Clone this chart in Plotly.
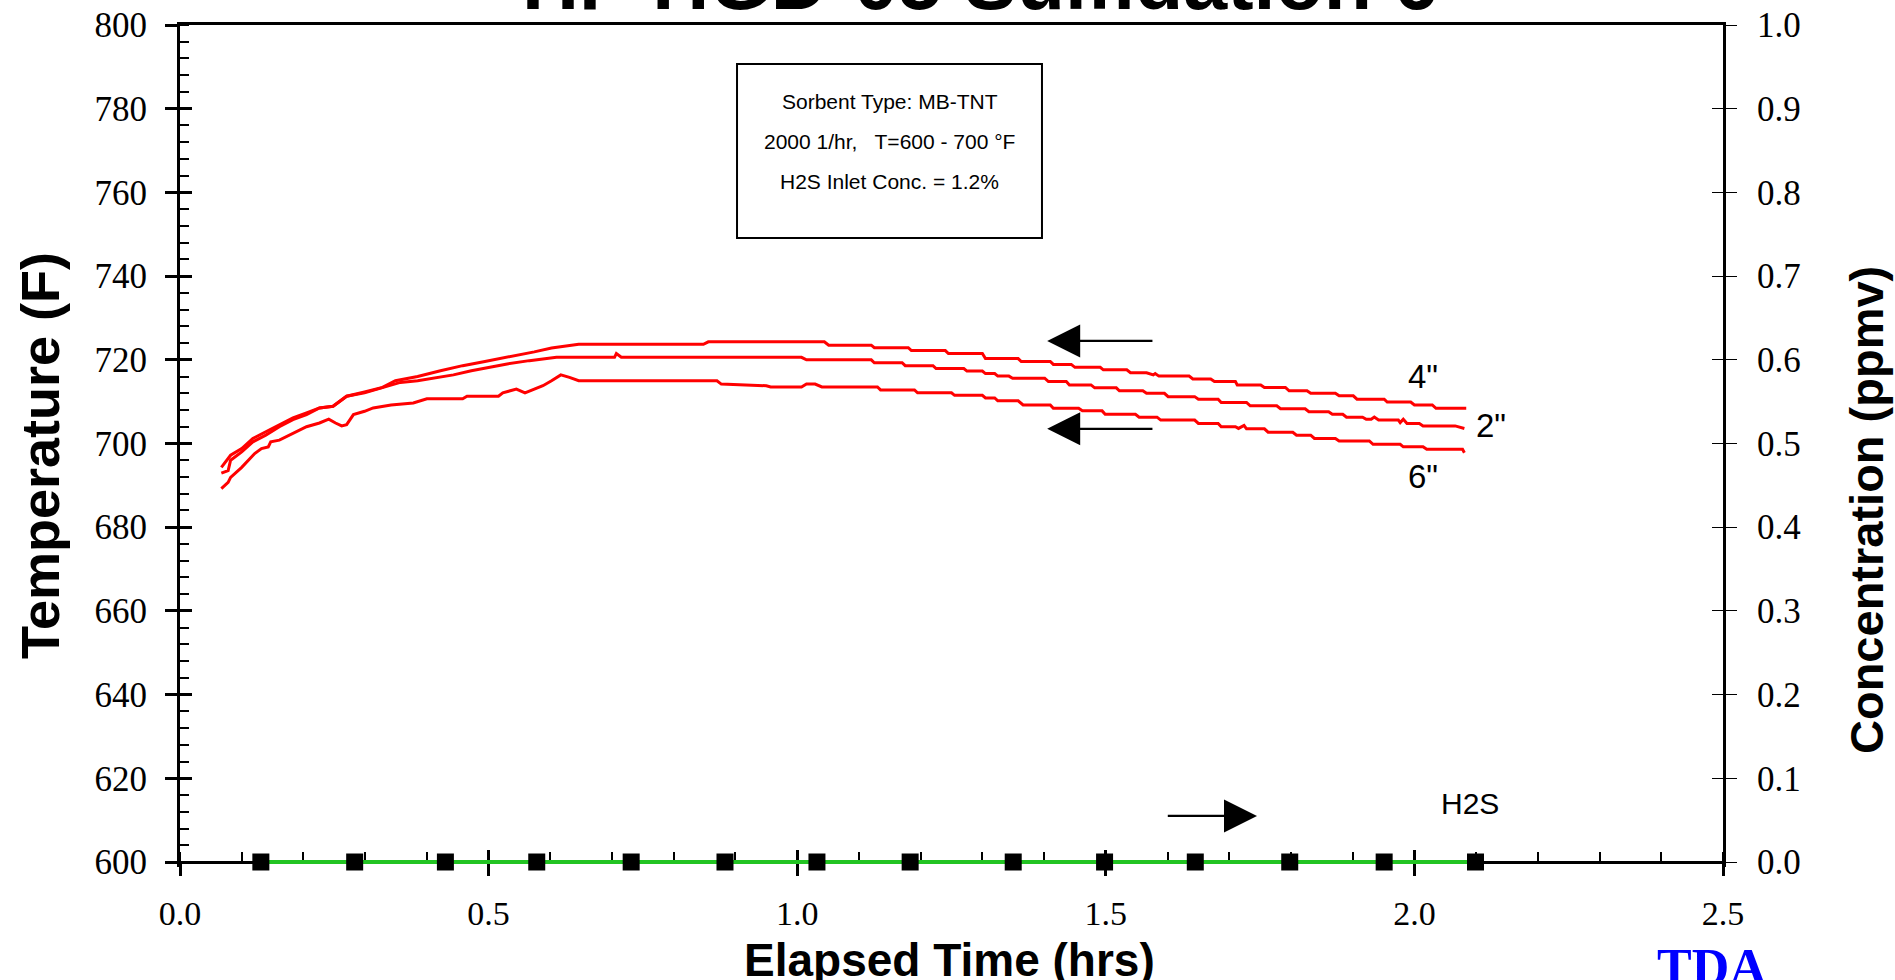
import plotly.graph_objects as go

# ---------------- data ----------------
temp_4in = [
    (0.067, 694.3), (0.082, 697.2), (0.100, 698.8), (0.118, 701.2), (0.139, 702.8),
    (0.161, 704.5), (0.183, 706.1), (0.205, 707.3), (0.226, 708.5), (0.248, 708.9),
    (0.270, 711.3), (0.299, 712.3), (0.328, 713.4), (0.349, 715.0), (0.385, 716.0),
    (0.422, 717.4), (0.458, 718.6), (0.494, 719.6), (0.530, 720.6), (0.574, 721.9),
    (0.602, 722.8), (0.646, 723.7), (0.848, 723.7), (0.856, 724.3), (1.044, 724.3),
    (1.051, 723.5), (1.086, 723.5), (1.120, 723.5), (1.125, 722.9), (1.180, 722.9),
    (1.185, 722.2), (1.240, 722.2), (1.245, 721.5), (1.300, 721.5), (1.305, 720.3),
    (1.358, 720.3), (1.363, 719.6), (1.410, 719.6), (1.415, 718.9), (1.444, 718.9),
    (1.450, 718.2), (1.491, 718.2), (1.496, 717.6), (1.534, 717.6), (1.540, 716.9),
    (1.566, 716.9), (1.577, 716.4), (1.580, 716.7), (1.586, 716.1), (1.635, 716.1),
    (1.641, 715.4), (1.670, 715.4), (1.676, 714.8), (1.710, 714.8), (1.713, 714.0),
    (1.751, 714.0), (1.757, 713.4), (1.791, 713.4), (1.797, 712.6), (1.826, 712.6),
    (1.832, 712.0), (1.872, 712.0), (1.878, 711.4), (1.901, 711.4), (1.907, 710.6),
    (1.951, 710.6), (1.956, 709.9), (1.994, 709.9), (2.000, 709.2), (2.029, 709.2),
    (2.035, 708.4), (2.084, 708.4),
]

temp_2in = [
    (0.067, 692.9), (0.078, 693.5), (0.082, 696.0), (0.100, 698.0), (0.118, 700.4),
    (0.139, 702.0), (0.161, 704.0), (0.183, 705.7), (0.205, 706.9), (0.226, 708.5),
    (0.248, 708.9), (0.270, 711.3), (0.299, 712.1), (0.328, 713.4), (0.357, 714.6),
    (0.385, 715.0), (0.443, 716.4), (0.472, 717.4), (0.501, 718.2), (0.530, 719.0),
    (0.566, 719.8), (0.610, 720.6), (0.704, 720.6), (0.707, 721.5), (0.715, 720.6),
    (1.007, 720.6), (1.015, 720.0), (1.120, 720.0), (1.125, 719.3), (1.170, 719.3),
    (1.175, 718.6), (1.220, 718.6), (1.225, 717.9), (1.270, 717.9), (1.275, 717.3),
    (1.300, 717.3), (1.305, 716.7), (1.320, 716.7), (1.325, 716.1), (1.343, 716.1),
    (1.349, 715.6), (1.401, 715.6), (1.407, 714.8), (1.436, 714.8), (1.441, 714.0),
    (1.476, 714.0), (1.482, 713.3), (1.517, 713.3), (1.522, 712.6), (1.560, 712.6),
    (1.566, 712.0), (1.595, 712.0), (1.601, 711.2), (1.644, 711.2), (1.650, 710.6),
    (1.682, 710.6), (1.687, 709.8), (1.728, 709.8), (1.734, 709.0), (1.777, 709.0),
    (1.783, 708.3), (1.823, 708.3), (1.829, 707.6), (1.861, 707.6), (1.867, 707.0),
    (1.884, 707.0), (1.890, 706.3), (1.916, 706.3), (1.922, 705.8), (1.930, 705.8),
    (1.935, 706.3), (1.942, 705.6), (1.974, 705.6), (1.977, 705.0), (1.982, 705.8),
    (1.988, 704.8), (2.008, 704.8), (2.014, 704.2), (2.066, 704.2), (2.081, 703.6),
]

temp_6in = [
    (0.067, 689.2), (0.078, 690.7), (0.082, 691.9), (0.100, 694.3), (0.121, 697.6),
    (0.132, 698.8), (0.143, 699.2), (0.147, 700.4), (0.161, 700.8), (0.183, 702.4),
    (0.205, 704.0), (0.226, 704.9), (0.241, 705.8), (0.252, 704.9), (0.262, 704.2),
    (0.270, 704.5), (0.281, 706.9), (0.299, 707.7), (0.313, 708.5), (0.342, 709.2),
    (0.378, 709.7), (0.400, 710.7), (0.458, 710.7), (0.465, 711.3), (0.516, 711.3),
    (0.523, 712.1), (0.545, 713.0), (0.559, 712.1), (0.574, 713.0), (0.588, 713.8),
    (0.602, 715.0), (0.617, 716.4), (0.631, 715.8), (0.646, 715.0), (0.870, 715.0),
    (0.877, 714.2), (0.950, 713.8), (0.957, 713.5), (1.007, 713.5), (1.015, 714.2),
    (1.029, 714.2), (1.040, 713.5), (1.130, 713.5), (1.135, 712.8), (1.190, 712.8),
    (1.195, 712.1), (1.250, 712.1), (1.255, 711.5), (1.300, 711.5), (1.305, 710.9),
    (1.320, 710.9), (1.325, 710.2), (1.358, 710.2), (1.366, 709.2), (1.410, 709.2),
    (1.415, 708.4), (1.456, 708.4), (1.462, 707.8), (1.494, 707.8), (1.499, 707.0),
    (1.548, 707.0), (1.554, 706.3), (1.583, 706.3), (1.589, 705.6), (1.644, 705.6),
    (1.650, 704.8), (1.682, 704.8), (1.687, 704.0), (1.710, 704.0), (1.715, 703.6),
    (1.724, 704.3), (1.728, 703.5), (1.757, 703.5), (1.763, 702.7), (1.803, 702.7),
    (1.809, 702.0), (1.832, 702.0), (1.838, 701.2), (1.872, 701.2), (1.878, 700.6),
    (1.927, 700.6), (1.933, 699.8), (1.977, 699.8), (1.982, 699.2), (2.014, 699.2),
    (2.020, 698.6), (2.078, 698.6), (2.081, 697.8),
]

h2s_time = [0.131, 0.283, 0.430, 0.578, 0.731, 0.883, 1.032, 1.183, 1.350, 1.498,
            1.645, 1.798, 1.951, 2.099]
h2s_conc = [0.0] * len(h2s_time)

title_text = "HP HGD-05 Sulfidation 6"
box_lines = ["Sorbent Type: MB-TNT", "2000 1/hr,   T=600 - 700 °F", "H2S Inlet Conc. = 1.2%"]

# ---------------- geometry ----------------
W, H = 1895, 980
M_L, M_R, M_T, M_B = 180, 172, 25, 113      # plot area runs 5 px below the x axis
AXIS_PAD_PX = 5                              # so the green H2S line is not clipped
PLOT_H = H - M_T - M_B
T_RANGE = [600, 800]
C_RANGE = [0, 1]
t_pad = AXIS_PAD_PX * (T_RANGE[1] - T_RANGE[0]) / (PLOT_H - AXIS_PAD_PX)
c_pad = AXIS_PAD_PX * (C_RANGE[1] - C_RANGE[0]) / (PLOT_H - AXIS_PAD_PX)
t_range = [T_RANGE[0] - t_pad, T_RANGE[1]]
c_range = [C_RANGE[0] - c_pad, C_RANGE[1]]
x_pos = AXIS_PAD_PX / PLOT_H

SERIF = "Liberation Serif, Times New Roman, serif"
SANS = "Liberation Sans, Arial, sans-serif"

fig = go.Figure()
for series in (temp_4in, temp_2in, temp_6in):
    xs = [p[0] for p in series]
    ys = [p[1] for p in series]
    fig.add_trace(go.Scatter(x=xs, y=ys, mode="lines",
                             line=dict(color="#ff0000", width=3),
                             xaxis="x", yaxis="y", hoverinfo="skip"))

# helper traces so the overlay tick axes are drawn
fig.add_trace(go.Scatter(x=[None], y=[None], xaxis="x", yaxis="y2", showlegend=False))
fig.add_trace(go.Scatter(x=[None], y=[None], xaxis="x2", yaxis="y3", showlegend=False))
fig.add_trace(go.Scatter(x=[None], y=[None], xaxis="x3", yaxis="y", showlegend=False))

# H2S concentration on the right axis (top-most overlay)
fig.add_trace(go.Scatter(x=h2s_time, y=h2s_conc, mode="lines+markers",
                         line=dict(color="#22c422", width=4),
                         marker=dict(symbol="square", size=17, color="black"),
                         xaxis="x", yaxis="y4", cliponaxis=False, hoverinfo="skip"))

common = dict(showgrid=False, zeroline=False, automargin=False, fixedrange=True,
              layer="below traces")

fig.update_layout(
    template="none",
    width=W, height=H,
    margin=dict(l=M_L, r=M_R, t=M_T, b=M_B, pad=0),
    paper_bgcolor="white", plot_bgcolor="white",
    showlegend=False,
    xaxis=dict(range=[0, 2.5], tick0=0, dtick=0.5, tickformat=".1f",
               anchor="free", position=x_pos,
               ticks="outside", ticklen=12, tickwidth=2.5, tickcolor="black",
               showline=True, linewidth=3, linecolor="black",
               tickfont=dict(family=SERIF, size=34, color="black"),
               ticklabelstandoff=8,
               minor=dict(dtick=0.1, ticks="inside", ticklen=9, tickwidth=2, tickcolor="black",
                          showgrid=False),
               **common),
    xaxis2=dict(range=[0, 2.5], tick0=0, dtick=0.5, overlaying="x",
                anchor="free", position=x_pos,
                ticks="inside", ticklen=12, tickwidth=2.5, tickcolor="black",
                showticklabels=False, showline=False, **common),
    xaxis3=dict(range=[0, 2.5], overlaying="x", anchor="y", side="top",
                ticks="", showticklabels=False,
                showline=True, linewidth=3, linecolor="black", **common),
    yaxis=dict(range=t_range, tick0=600, dtick=20,
               ticks="outside", ticklen=12, tickwidth=2.5, tickcolor="black",
               showline=True, linewidth=3, linecolor="black",
               tickfont=dict(family=SERIF, size=35, color="black"),
               ticklabelstandoff=11,
               minor=dict(tick0=600, dtick=4, ticks="inside", ticklen=9, tickwidth=2,
                          tickcolor="black", showgrid=False),
               anchor="x", **common),
    yaxis2=dict(range=c_range, tick0=0, dtick=0.1, overlaying="y", side="right", anchor="x",
                ticks="inside", ticklen=11, tickwidth=1.2, tickcolor="black",
                showticklabels=False, showline=False, **common),
    yaxis3=dict(range=t_range, tick0=600, dtick=20, overlaying="y", anchor="x2", side="left",
                ticks="inside", ticklen=12, tickwidth=2.5, tickcolor="black",
                showticklabels=False, showline=False, **common),
    yaxis4=dict(range=c_range, tick0=0, dtick=0.1, tickformat=".1f", overlaying="y",
                side="right", anchor="x",
                ticks="outside", ticklen=11, tickwidth=1.2, tickcolor="black",
                showline=True, linewidth=3, linecolor="black",
                tickfont=dict(family=SERIF, size=35, color="black"),
                ticklabelstandoff=13, **common),
)


def px_to_paper(px, py):
    """page pixel -> paper coordinates of the plot area (for texts outside it)"""
    return (px - M_L) / (W - M_L - M_R), (H - M_B - py) / PLOT_H


ann = []
# title (partly cut off at the top of the page, as in the reference)
ann.append(dict(text="<b>" + title_text + "</b>", xref="x", yref="y",
                x=1.296, y=799.2, xanchor="center", yanchor="bottom", showarrow=False,
                font=dict(family=SANS, size=79, color="black")))
# axis titles
px, py = px_to_paper(40, 456)
ann.append(dict(text="<b>Temperature (F)</b>", xref="paper", yref="paper",
                x=px, y=py, xanchor="center", yanchor="middle", textangle=-90,
                showarrow=False, font=dict(family=SANS, size=54, color="black")))
px, py = px_to_paper(1866, 510)
ann.append(dict(text="<b>Concentration (ppmv)</b>", xref="paper", yref="paper",
                x=px, y=py, xanchor="center", yanchor="middle", textangle=-90,
                showarrow=False, font=dict(family=SANS, size=47, color="black")))
px, py = px_to_paper(949, 959.5)
ann.append(dict(text="<b>Elapsed Time (hrs)</b>", xref="paper", yref="paper",
                x=px, y=py, xanchor="center", yanchor="middle",
                showarrow=False, font=dict(family=SANS, size=46, color="black")))
# TDA logo text
px, py = px_to_paper(1712, 937)
ann.append(dict(text="<b>TDA</b>", xref="paper", yref="paper",
                x=px, y=py, xanchor="center", yanchor="top",
                showarrow=False, font=dict(family=SERIF, size=52, color="#0000ff")))
# info box text
for txt, yy in zip(box_lines, (781.7, 772.2, 762.7)):
    ann.append(dict(text=txt, xref="x", yref="y", x=1.150, y=yy,
                    xanchor="center", yanchor="middle", showarrow=False,
                    font=dict(family=SANS, size=21, color="black")))
# series labels
for txt, xx, yy in (('4"', 2.014, 715.9), ('2"', 2.124, 704.4), ('6"', 2.014, 692.0)):
    ann.append(dict(text=txt, x=xx, y=yy, xref="x", yref="y", xanchor="center",
                    yanchor="middle", showarrow=False,
                    font=dict(family=SANS, size=33, color="black")))
ann.append(dict(text="H2S", x=2.09, y=613.9, xref="x", yref="y", xanchor="center",
                yanchor="middle", showarrow=False,
                font=dict(family=SANS, size=30, color="black")))
# arrows
for (x0, x1, yy) in ((1.578, 1.405, 724.5), (1.578, 1.405, 703.5), (1.598, 1.745, 611.0)):
    ann.append(dict(text="", x=x1, y=yy, ax=x0, ay=yy, xref="x", yref="y",
                    axref="x", ayref="y", showarrow=True, arrowhead=2,
                    arrowsize=3, arrowwidth=2.2, arrowcolor="black", standoff=0))
fig.update_layout(annotations=ann)

fig.add_shape(type="rect", xref="x", yref="y",
              x0=0.9025, x1=1.3966, y0=749.1, y1=790.7,
              line=dict(color="black", width=2), fillcolor="rgba(0,0,0,0)")

fig.write_html("out.html", config={"displayModeBar": False},
               post_script="document.body.style.margin='0';document.body.style.overflow='hidden';")
